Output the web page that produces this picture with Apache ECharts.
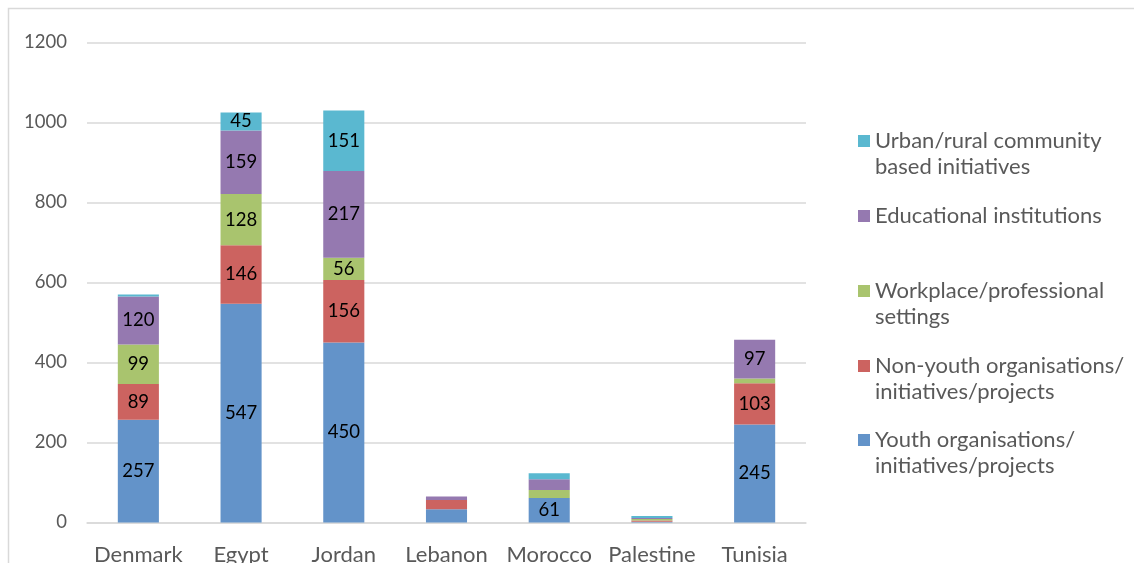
<!DOCTYPE html>
<html><head><meta charset="utf-8">
<script src="https://cdn.jsdelivr.net/npm/echarts@6/dist/echarts.min.js"></script>
<style>html,body{margin:0;padding:0;background:#fff}#c{width:1134px;height:563px}</style>
</head><body><div id="c"></div>
<script>
const categories = ['Denmark','Egypt','Jordan','Lebanon','Morocco','Palestine','Tunisia'];
const seriesNames = ['Youth organisations/\ninitiatives/projects','Non-youth organisations/\ninitiatives/projects','Workplace/professional\nsettings','Educational institutions','Urban/rural community\nbased initiatives'];
const youth     = [257, 547, 450, 33, 61, 2, 245];
const nonYouth  = [89, 146, 156, 23, 0, 3, 103];
const workplace = [99, 128, 56, 0, 20, 4, 12];
const education = [120, 159, 217, 9, 27, 2, 97];
const urban     = [5, 45, 151, 0, 15, 5, 0];
const yTicks = [0, 200, 400, 600, 800, 1000, 1200];

const values = [youth, nonYouth, workplace, education, urban];
const colors = ['#6393C9','#CC6360','#A9C46E','#9579B0','#5AB8D0'];
const FONT = 'Lato';

const chart = echarts.init(document.getElementById('c'));
const series = values.map((v, i) => ({
  name: seriesNames[i], type: 'bar', stack: 'total', data: v, barWidth: '40%',
  itemStyle: { color: colors[i] },
  label: { show: true, position: 'inside', color: '#000', fontFamily: FONT, fontSize: 18.5,
    formatter: p => p.value >= 40 ? String(p.value) : '' }
}));
const TWO_LINE_ICON = 'path://M0,0H0.001V0.001H0Z M0,3H12V15H0Z M0,44H0.001V44.001H0Z';
const legendTops = [128, 203, 278, 353, 427];
const legends = [4,3,2,1,0].map((si, k) => {
  const twoLine = seriesNames[si].indexOf('\n') >= 0;
  return {
    data: [seriesNames[si]], left: 858, top: legendTops[k], orient: 'vertical',
    itemWidth: 12, itemHeight: twoLine ? 44 : 12, icon: twoLine ? TWO_LINE_ICON : 'rect',
    itemGap: 0, padding: 0,
    textStyle: { fontFamily: FONT, fontSize: 22, color: '#595959', lineHeight: 26 },
    selectedMode: false
  };
});
chart.setOption({
  animation: false,
  grid: { left: 87, right: 328, top: 42.5, bottom: 40.5, containLabel: false, outerBoundsMode: 'none' },
  xAxis: { type: 'category', data: categories,
    axisLine: { lineStyle: { color: '#d9d9d9', width: 1.5 } }, axisTick: { show: false },
    axisLabel: { color: '#595959', fontFamily: FONT, fontSize: 22, margin: 21, interval: 0 } },
  yAxis: { type: 'value', min: yTicks[0], max: yTicks[yTicks.length-1], interval: yTicks[1]-yTicks[0],
    axisLine: { show: false }, axisTick: { show: false },
    splitLine: { lineStyle: { color: '#d9d9d9', width: 1.5 } },
    axisLabel: { color: '#595959', fontFamily: FONT, fontSize: 18.5, margin: 20, formatter: v => String(v) } },
  legend: legends,
  graphic: [{ type: 'rect', shape: { x: 8.5, y: 8.5, width: 1200, height: 700 },
    style: { fill: 'none', stroke: '#d9d9d9', lineWidth: 1.5 }, silent: true }],
  series: series
});
</script></body></html>
